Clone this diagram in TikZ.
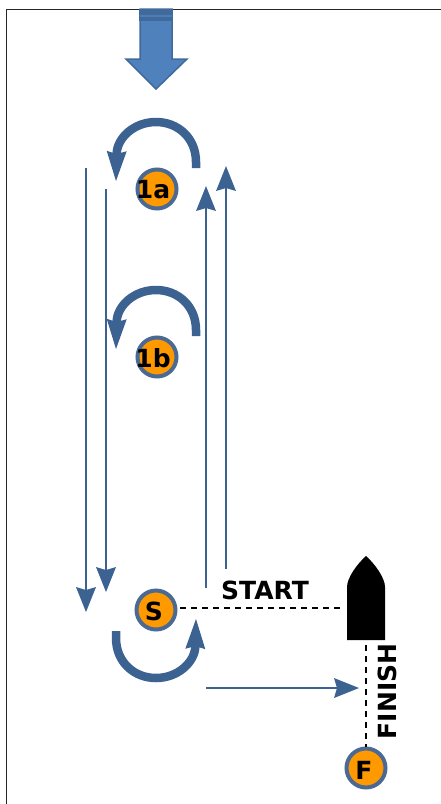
\documentclass[tikz,border=0pt]{standalone}
\usepackage{fontspec}
\setmainfont{DejaVu Sans}
\usetikzlibrary{arrows.meta}
\definecolor{flow}{HTML}{3C6291}
\definecolor{mark}{HTML}{FF9900}
\definecolor{markline}{HTML}{4A6A94}
\definecolor{wind}{HTML}{4F81BD}
\definecolor{windline}{HTML}{416A9C}
\tikzset{
  x=1pt,y=-1pt,
  buoy/.style={circle,draw=markline,line width=4pt,fill=mark,minimum size=39pt,inner sep=0pt},
  lbl/.style={font=\fontsize{25}{25}\selectfont\bfseries,inner sep=0pt},
  legline/.style={draw=flow,line width=2pt,-{Stealth[length=25pt,width=20pt,inset=3pt,line width=0pt]}},
  turn/.style={draw=flow,line width=8.5pt,-{Stealth[length=30pt,width=20pt,inset=3pt,line width=0pt]}},
  dashline/.style={draw=black,line width=1.7pt,dash pattern=on 6pt off 5pt},
}
\begin{document}
\begin{tikzpicture}
\useasboundingbox (0,0) rectangle (441,804);
\draw[line width=1pt,color=black!85] (441,9) -- (6,9) -- (6,804);
% wind arrow
\path[fill=wind,draw=windline,line width=1.5pt,line join=miter]
  (140,9) -- (172,9) -- (172,59) -- (187,59) -- (156,89) -- (126,59) -- (140,59) -- cycle;
\fill[windline] (139,9) rectangle (173,21);
\fill[wind!85!windline] (140,15) rectangle (172,16.5);
% marks
\node[buoy] (a) at (157,189) {};
\node[buoy] (b) at (157,357) {};
\node[buoy] (s) at (156,610) {};
\node[buoy] (f) at (366,768) {};
\node[lbl] (la) at (153,190) {1a};
\node[lbl] (lb) at (153,358) {1b};
\node[lbl] (ls) at (154,611) {S};
\node[lbl] (lf) at (364,770) {F};
% boat
\path[fill=black] (347,640) -- (347,587) .. controls (347,578) and (357,564) .. (366,556) .. controls (375,564) and (385,578) .. (385,587) -- (385,640) -- cycle;
\coordinate (bowtop) at (366,645);
\coordinate (startend) at (343,608);
\coordinate (startbeg) at (180,608);
\coordinate (finend) at (366,747);
\draw[dashline] (startbeg) -- (startend);
\draw[dashline] (bowtop) -- (finend);
\node[lbl,anchor=base west] (start) at (221,599) {START};
\node[lbl,rotate=90,anchor=base] (finish) at (396,691.5) {FINISH};
% long legs
\coordinate (d1s) at (86,168); \coordinate (d1e) at (86,612);
\coordinate (d2s) at (106,189); \coordinate (d2e) at (106,592);
\coordinate (u1s) at (206,588); \coordinate (u1e) at (206,186);
\coordinate (u2s) at (226,569); \coordinate (u2e) at (226,166);
\coordinate (hs) at (206,688); \coordinate (he) at (359,688);
\draw[legline] (d1s) -- (d1e);
\draw[legline] (d2s) -- (d2e);
\draw[legline] (u1s) -- (u1e);
\draw[legline] (u2s) -- (u2e);
\draw[legline] (hs) -- (he);
% turns
\coordinate (t1s) at (196,168); \coordinate (t1e) at (116,181);
\coordinate (t2s) at (196,336); \coordinate (t2e) at (116,349);
\coordinate (t3s) at (116,631); \coordinate (t3e) at (196,619);
\draw[turn] (t1s) -- (196,162) .. controls (196,138) and (178,122) .. (156,122) .. controls (134,122) and (117,138) .. (t1e);
\draw[turn] (t2s) -- (196,330) .. controls (196,306) and (178,290) .. (156,290) .. controls (134,290) and (117,306) .. (t2e);
\draw[turn] (t3s) -- (116,638) .. controls (116,662) and (134,678) .. (156,678) .. controls (178,678) and (195,662) .. (t3e);
\end{tikzpicture}
\end{document}
